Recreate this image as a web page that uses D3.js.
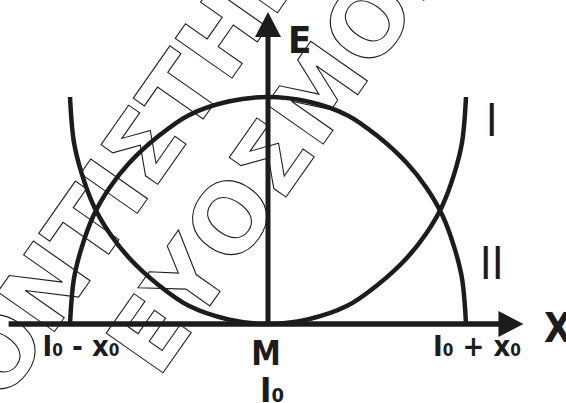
<!DOCTYPE html>
<html>
<head>
<meta charset="utf-8">
<script src="https://cdn.jsdelivr.net/npm/d3@7"></script>
<style>
  body { margin: 0; background: #fff; }
  svg { display: block; }
</style>
</head>
<body>
<div class="chart"></div>
<script>
var width = 566;
var height = 403;

// curve II (the arch), x in units of x0, E relative to top
let curveII = [
  [-1, 0], [-0.98, 0.2], [-0.94, 0.34], [-0.88, 0.48], [-0.8, 0.6], [-0.7, 0.71],
  [-0.55, 0.83], [-0.4, 0.92], [-0.2, 0.98], [0, 1], [0.2, 0.98], [0.4, 0.92],
  [0.55, 0.83], [0.7, 0.71], [0.8, 0.6], [0.88, 0.48], [0.94, 0.34], [0.98, 0.2], [1, 0]
];

// curve I (the bowl)
let curveI = [
  [-1, 1], [-0.98, 0.8], [-0.94, 0.66], [-0.88, 0.52], [-0.8, 0.4], [-0.7, 0.29],
  [-0.55, 0.17], [-0.4, 0.08], [-0.2, 0.02], [0, 0], [0.2, 0.02], [0.4, 0.08],
  [0.55, 0.17], [0.7, 0.29], [0.8, 0.4], [0.88, 0.52], [0.94, 0.66], [0.98, 0.8], [1, 1]
];

let xAxisExtent = [-1.31, 1.29];
let yAxisExtent = [0, 1.375];

let tickLabels = [
  {x: -1, text: 'I', sub: '0', rest: ' - x', sub2: '0'},
  {x: 1, text: 'I', sub: '0', rest: ' + x', sub2: '0'}
];

let curveLabels = [
  {x: 1.13, y: 0.83, text: 'I'},
  {x: 1.13, y: 0.2, text: 'II'}
];

let watermark = ['ΦΡΟΝΤΙΣΤΗΡΙΟ', 'ΕΥΟΣΜΟΣ'];

let ink = '#1c1c1c';
let labelFont = "'DejaVu Sans Condensed', 'DejaVu Sans', sans-serif";

let svg = d3.select('.chart')
  .append('svg')
  .attr('width', width)
  .attr('height', height)
;

svg.append('rect')
  .attr('width', width)
  .attr('height', height)
  .style('fill', '#fff');

//scales

let xScale = d3.scaleLinear()
  .domain([-1, 1])
  .range([70, 466]);

let yScale = d3.scaleLinear()
  .domain([0, 1])
  .range([324, 97]);

// watermark, outlined letters behind everything
let wm = [
  {text: watermark[0], x: -83, y: 528},
  {text: watermark[1], x: 158, y: 380}
];

svg.selectAll('.wm')
  .data(wm)
  .enter()
  .append('text')
  .attr('class', 'wm')
  .attr('transform', d => `translate(${d.x}, ${d.y}) rotate(-55)`)
  .style('font-family', "'DejaVu Sans', sans-serif")
  .style('font-weight', 'bold')
  .style('font-size', '95px')
  .style('fill', 'none')
  .style('stroke', ink)
  .style('stroke-width', 1.1)
  .text(d => d.text);

// curves
let line = d3.line()
  .x(d => xScale(d[0]))
  .y(d => yScale(d[1]))
  .curve(d3.curveCatmullRom.alpha(0.5));

[curveII, curveI].forEach(c => {
  svg.append('path')
    .datum(c)
    .attr('d', line)
    .style('fill', 'none')
    .style('stroke', ink)
    .style('stroke-width', 4.5);
});

// axes with arrow heads
svg.append('line')
  .attr('x1', xScale(xAxisExtent[0]))
  .attr('x2', xScale(xAxisExtent[1]) - 20)
  .attr('y1', yScale(0))
  .attr('y2', yScale(0))
  .style('stroke', ink)
  .style('stroke-width', 5.5);

svg.append('path')
  .attr('d', () => {
    let tx = xScale(xAxisExtent[1]), ty = yScale(0);
    return `M${tx},${ty} L${tx - 25},${ty - 13} L${tx - 25},${ty + 13} Z`;
  })
  .style('fill', ink);

svg.append('line')
  .attr('x1', xScale(0))
  .attr('x2', xScale(0))
  .attr('y1', yScale(0))
  .attr('y2', yScale(yAxisExtent[1]) + 20)
  .style('stroke', ink)
  .style('stroke-width', 5);

svg.append('path')
  .attr('d', () => {
    let tx = xScale(0), ty = yScale(yAxisExtent[1]);
    return `M${tx},${ty} L${tx - 13},${ty + 25} L${tx + 13},${ty + 25} Z`;
  })
  .style('fill', ink);

// axis names
svg.append('text')
  .attr('x', xScale(0) + 20)
  .attr('y', 53)
  .style('font-family', labelFont)
  .style('font-weight', 'bold')
  .style('font-size', '38px')
  .style('fill', ink)
  .text('E');

svg.append('text')
  .attr('x', 544)
  .attr('y', 342)
  .style('font-family', labelFont)
  .style('font-weight', 'bold')
  .style('font-size', '40px')
  .style('fill', ink)
  .text('X');

// tick labels
let ticks = svg.selectAll('.tick')
  .data(tickLabels)
  .enter()
  .append('text')
  .attr('class', 'tick')
  .attr('x', d => xScale(d.x) + 11)
  .attr('y', 356)
  .style('text-anchor', 'middle')
  .style('font-family', labelFont)
  .style('font-weight', 'bold')
  .style('font-size', '29px')
  .style('fill', ink);

ticks.append('tspan').text(d => d.text);
ticks.append('tspan').style('font-size', '17px').text(d => d.sub);
ticks.append('tspan').text(d => d.rest);
ticks.append('tspan').style('font-size', '17px').text(d => d.sub2);

svg.append('text')
  .attr('x', xScale(0) - 2)
  .attr('y', 365)
  .style('text-anchor', 'middle')
  .style('font-family', labelFont)
  .style('font-weight', 'bold')
  .style('font-size', '33px')
  .style('fill', ink)
  .text('M');

let mid = svg.append('text')
  .attr('x', xScale(0) + 4)
  .attr('y', 402)
  .style('text-anchor', 'middle')
  .style('font-family', labelFont)
  .style('font-weight', 'bold')
  .style('font-size', '34px')
  .style('fill', ink);
mid.append('tspan').text('I');
mid.append('tspan').style('font-size', '20px').text('0');

// curve names
svg.selectAll('.cname')
  .data(curveLabels)
  .enter()
  .append('text')
  .attr('class', 'cname')
  .attr('x', d => xScale(d.x))
  .attr('y', d => yScale(d.y))
  .style('text-anchor', 'middle')
  .style('font-family', labelFont)
  .style('font-size', '45px')
  .style('fill', ink)
  .text(d => d.text);
</script>
</body>
</html>
